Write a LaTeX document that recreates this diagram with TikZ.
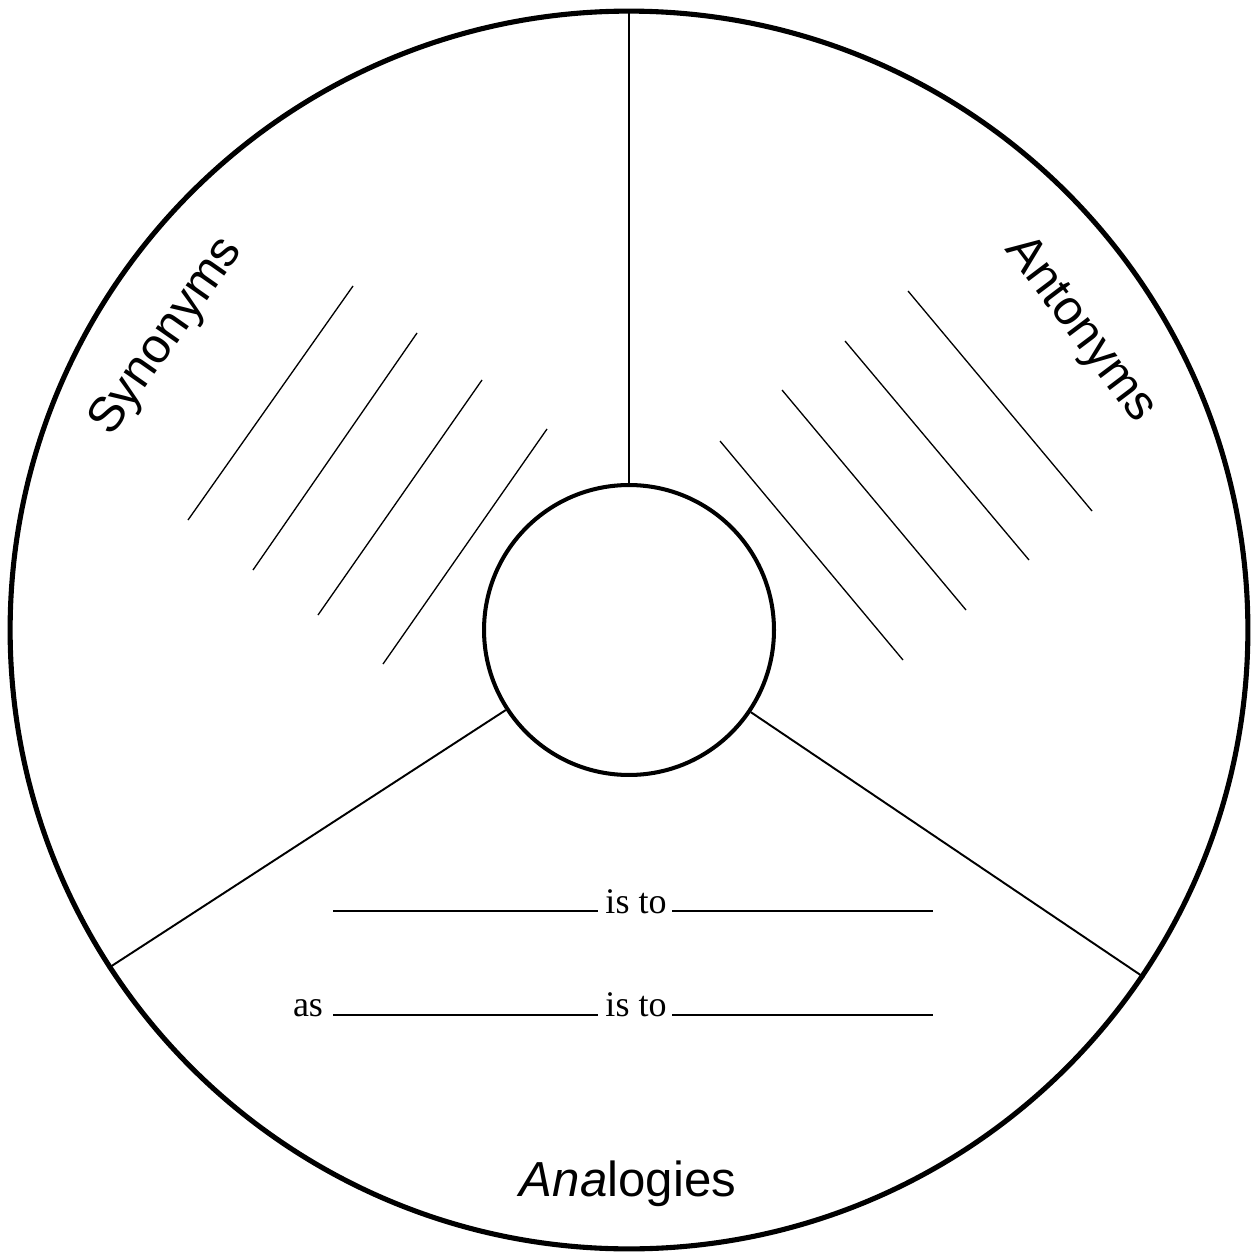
\documentclass[tikz,border=0pt]{standalone}
\usepackage{fontspec}
\setmainfont{Liberation Serif}
\setsansfont{Liberation Sans}
\usetikzlibrary{calc, positioning}

\tikzset{
  rimline/.style={line width=2.9pt},
  hubline/.style={line width=2.3pt},
  spoke/.style={line width=1.1pt},
  hatch/.style={line width=0.75pt},
  blank/.style={line width=0.8pt},
  sectorlabel/.style={font=\sffamily\fontsize{28}{34}\selectfont, inner sep=0pt},
  fillword/.style={font=\fontsize{20.5}{24}\selectfont, inner sep=0pt, anchor=base}
}

\begin{document}
\begin{tikzpicture}[x=0.02cm, y=-0.02cm]
\useasboundingbox (0, 0) rectangle (1251, 1256);

\coordinate (O) at (629, 630);

\node[circle, draw, rimline, minimum size=24.76cm, inner sep=0pt] (rim) at (O) {};
\node[circle, draw, hubline, minimum size=5.8cm, inner sep=0pt] (hub) at (O) {};

\draw[spoke] (hub.north) -- (rim.north);
\draw[spoke] (hub.213.5) -- (rim.213.5);
\draw[spoke] (hub.326.5) -- (rim.326.5);

% synonyms lines
\draw[hatch] (188, 520) -- (353, 286);
\draw[hatch] (253, 570) -- (417, 333);
\draw[hatch] (318, 615) -- (482, 380);
\draw[hatch] (383, 664) -- (547, 429);

% antonyms lines
\draw[hatch] (720, 441) -- (903, 660);
\draw[hatch] (782, 390) -- (966, 610);
\draw[hatch] (845, 341) -- (1029, 560);
\draw[hatch] (908, 291) -- (1092, 511);

\node[sectorlabel, rotate=55] (syn) at (167, 337) {Synonyms};
\node[sectorlabel, rotate=-53] (ant) at (1080, 330) {Antonyms};
\node[sectorlabel] (ana) at (628, 1184) {{\itshape Ana}logies};

% analogy blanks
\node[fillword] (isto1) at (636, 913) {is to};
\node[fillword] (isto2) at (636, 1016) {is to};
\node[fillword] (as) at (308, 1016) {as};

\draw[blank] (333, 911) -- (598, 911);
\draw[blank] (672, 911) -- (933, 911);
\draw[blank] (333, 1015) -- (598, 1015);
\draw[blank] (672, 1015) -- (933, 1015);

\end{tikzpicture}
\end{document}
